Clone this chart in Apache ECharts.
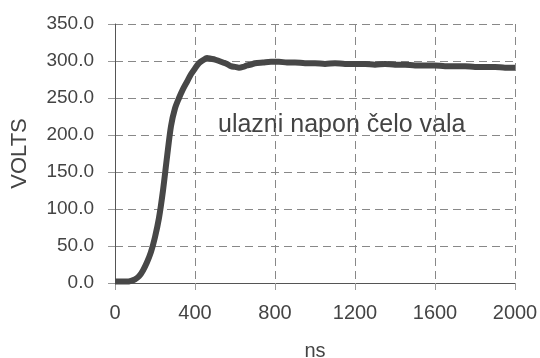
<!DOCTYPE html>
<html>
<head>
<meta charset="utf-8">
<script src="https://cdn.jsdelivr.net/npm/echarts@6/dist/echarts.min.js"></script>
<style>
  html, body { margin: 0; padding: 0; background: #fff; }
  #chart { width: 540px; height: 358px; }
</style>
</head>
<body>
<div id="chart"></div>
<script>
// time in ns
const timeNs = [
    0, 20, 40, 60, 80, 100, 120, 140, 160, 180, 200, 220, 240, 260, 280, 300,
    320, 340, 360, 380, 400, 420, 440, 460, 480, 500, 520, 540, 560, 580, 600,
    620, 640, 660, 680, 700, 740, 780, 820, 860, 900, 950, 1000, 1050, 1100,
    1150, 1200, 1250, 1300, 1350, 1400, 1450, 1500, 1550, 1600, 1650, 1700,
    1750, 1800, 1850, 1900, 1950, 2000
]
const volts = [
    2, 2, 2, 2, 3, 5, 9, 17, 28, 42, 62, 88, 125, 170, 212, 236,
    250, 262, 272, 282, 290, 297, 301, 304, 303, 302, 300, 298, 296, 293, 292,
    291, 292, 294, 295, 297, 298, 299, 299, 298, 298, 297, 297, 296, 297,
    296, 296, 296, 295, 296, 295, 295, 294, 294, 294, 293, 293, 293, 292,
    292, 292, 291, 291
]
const annotation = 'ulazni napon čelo vala'

var points = []
for (var i = 0; i < timeNs.length; i++) {
    points.push([timeNs[i], volts[i]])
}

var myChart = echarts.init(document.getElementById('chart'))
var textColor = '#444'
var font = 'Liberation Sans, Arial, sans-serif'

var option = {
    animation: false,
    grid: { left: 115, right: 25, top: 24, bottom: 75, outerBoundsMode: 'none' },
    xAxis: {
        type: 'value',
        min: 0,
        max: 2000,
        interval: 400,
        name: 'ns',
        nameLocation: 'middle',
        nameGap: 58,
        nameTextStyle: { color: textColor, fontSize: 20, fontFamily: font },
        axisLine: { lineStyle: { color: '#555', width: 1 } },
        axisTick: { length: 7, lineStyle: { color: '#999' } },
        axisLabel: {
            color: textColor, fontSize: 20, fontFamily: font, margin: 20,
            formatter: function (v) { return String(v) }
        },
        splitLine: { lineStyle: { type: [8, 5], color: '#888' } }
    },
    yAxis: {
        type: 'value',
        min: 0,
        max: 350,
        interval: 50,
        name: 'VOLTS',
        nameLocation: 'middle',
        nameGap: 84,
        nameTextStyle: { color: textColor, fontSize: 22, fontFamily: font },
        axisLine: { show: true, lineStyle: { color: '#555', width: 1 } },
        axisTick: { show: true, length: 7, lineStyle: { color: '#999' } },
        axisLabel: {
            color: textColor, fontSize: 19, fontFamily: font, margin: 21,
            formatter: function (v) { return v.toFixed(1) }
        },
        splitLine: { lineStyle: { type: [8, 5], color: '#888' } }
    },
    graphic: [
        {
            type: 'text',
            left: 218,
            top: 113,
            style: { text: annotation, fill: textColor, fontSize: 25, fontFamily: font }
        }
    ],
    series: [
        {
            type: 'line',
            data: points,
            symbol: 'none',
            smooth: 0.3,
            lineStyle: { color: '#474747', width: 6 }
        }
    ]
}

myChart.setOption(option)
</script>
</body>
</html>
